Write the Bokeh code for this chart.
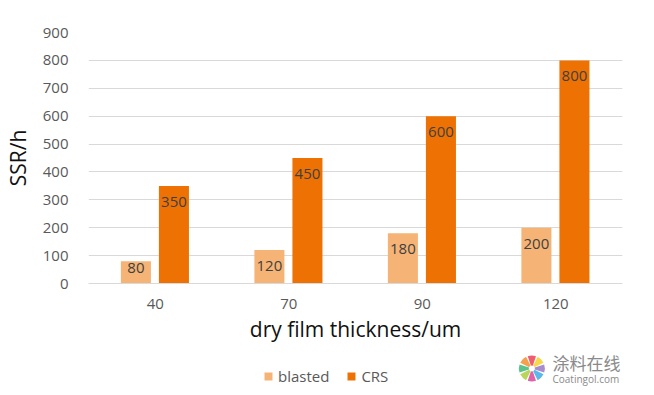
import math
from bokeh.plotting import figure
from bokeh.models import FactorRange, Range1d, ColumnDataSource, Legend, LegendItem, Label
from bokeh.layouts import column
from bokeh.transform import dodge
from bokeh.core.properties import value
from bokeh.embed import file_html
from bokeh.resources import INLINE

categories = ["40", "70", "90", "120"]
blasted = [80, 120, 180, 200]
crs = [350, 450, 600, 800]
y_ticks = [0, 100, 200, 300, 400, 500, 600, 700, 800, 900]
series_names = ["blasted", "CRS"]
logo_colors = ["#A98BD0", "#F7D84A", "#EE5E6E", "#F6A04D", "#5CC48B", "#B9D65A", "#E062A8", "#5BB8EA"]

FONT = "Open Sans"
C_BL = "#F5B475"
C_CRS = "#ED7203"

p = figure(width=638, height=352, output_backend="svg", toolbar_location=None,
           x_range=FactorRange(*categories), y_range=Range1d(0, 900),
           min_border_left=80, min_border_right=16, min_border_top=32, min_border_bottom=69)
p.outline_line_color = None
p.background_fill_color = "white"

ppu = 251 / 900.0
def offs(vals):
    return [16 if v * ppu >= 32 else v * ppu * 0.31 for v in vals]

src = ColumnDataSource(dict(cat=categories, bl=blasted, crs=crs,
                            bl_t=[str(v) for v in blasted], crs_t=[str(v) for v in crs],
                            bl_o=offs(blasted), crs_o=offs(crs)))

p.vbar(x=dodge("cat", -0.145, range=p.x_range), top="bl", width=0.225, source=src,
       fill_color=C_BL, line_color=None)
p.vbar(x=dodge("cat", 0.14, range=p.x_range), top="crs", width=0.225, source=src,
       fill_color=C_CRS, line_color=None)

p.text(x=dodge("cat", -0.145, range=p.x_range), y="bl", text="bl_t", y_offset="bl_o", source=src,
       text_align="center", text_baseline="middle", text_font=value(FONT),
       text_font_size="15px", text_color="#404040")
p.text(x=dodge("cat", 0.14, range=p.x_range), y="crs", text="crs_t", y_offset="crs_o", source=src,
       text_align="center", text_baseline="middle", text_font=value(FONT),
       text_font_size="15px", text_color="#404040")

p.yaxis.ticker = y_ticks
p.ygrid.grid_line_color = "#D9D9D9"
p.ygrid.grid_line_width = 1
p.xgrid.grid_line_color = None

for ax in (p.xaxis[0], p.yaxis[0]):
    ax.major_tick_line_color = None
    ax.minor_tick_line_color = None
    ax.major_label_text_font = FONT
    ax.major_label_text_font_size = "15px"
    ax.major_label_text_color = "#595959"
    ax.axis_label_text_font = FONT
    ax.axis_label_text_font_size = "21px"
    ax.axis_label_text_font_style = "normal"
    ax.axis_label_text_color = "#111111"

p.yaxis.axis_line_color = None
p.yaxis.major_label_standoff = 14
p.yaxis.axis_label = "SSR/h"
p.yaxis.axis_label_standoff = 8

p.xaxis.axis_line_color = "#D9D9D9"
p.xaxis.major_label_standoff = 9
p.xaxis.axis_label = "dry film thickness/um"
p.xaxis.axis_label_standoff = 3

# bottom strip: legend and watermark (its frame is aligned with the main frame)
H2 = 35
p2 = figure(width=638, height=H2, output_backend="svg", toolbar_location=None,
            x_range=Range1d(0, 542), y_range=Range1d(0, H2),
            x_axis_location=None, y_axis_location=None,
            min_border_left=0, min_border_right=0, min_border_top=0, min_border_bottom=0)
p2.grid.visible = False
p2.outline_line_color = None

# zero-size legend proxies
d1 = p2.vbar(x=[0], top=[0], bottom=[0], width=0, fill_color=C_BL, line_color=None)
d2 = p2.vbar(x=[0], top=[0], bottom=[0], width=0, fill_color=C_CRS, line_color=None)
legend = Legend(items=[LegendItem(label=series_names[0], renderers=[d1]),
                       LegendItem(label=series_names[1], renderers=[d2])],
                orientation="horizontal", location=(175, 1),
                label_text_font=FONT, label_text_font_size="15px", label_text_color="#595959",
                glyph_width=10, glyph_height=10, label_standoff=5, spacing=17,
                border_line_color=None, background_fill_alpha=0, padding=0, margin=0)
p2.add_layout(legend, "center")

# watermark logo (pinwheel)
n = len(logo_colors)
step = 2 * math.pi / n
starts = [i * step - step / 2 + 0.07 for i in range(n)]
ends = [i * step + step / 2 - 0.07 for i in range(n)]
p2.annular_wedge(x=450, y=19, inner_radius=3, outer_radius=13,
                 inner_radius_units="screen", outer_radius_units="screen",
                 start_angle=starts, end_angle=ends, fill_color=logo_colors, line_color=None)

p2.add_layout(Label(x=464, y=25, x_units="screen", y_units="screen", text="涂料在线",
                    text_baseline="middle", text_font="Noto Sans CJK SC",
                    text_font_size="17px", text_color="#8a8a8a"))
p2.add_layout(Label(x=464, y=9, x_units="screen", y_units="screen", text="Coatingol.com",
                    text_baseline="middle", text_font=FONT,
                    text_font_size="10px", text_color="#8a8a8a"))

layout = column(p, p2, spacing=0)
open("out.html", "w").write(file_html(layout, INLINE))
